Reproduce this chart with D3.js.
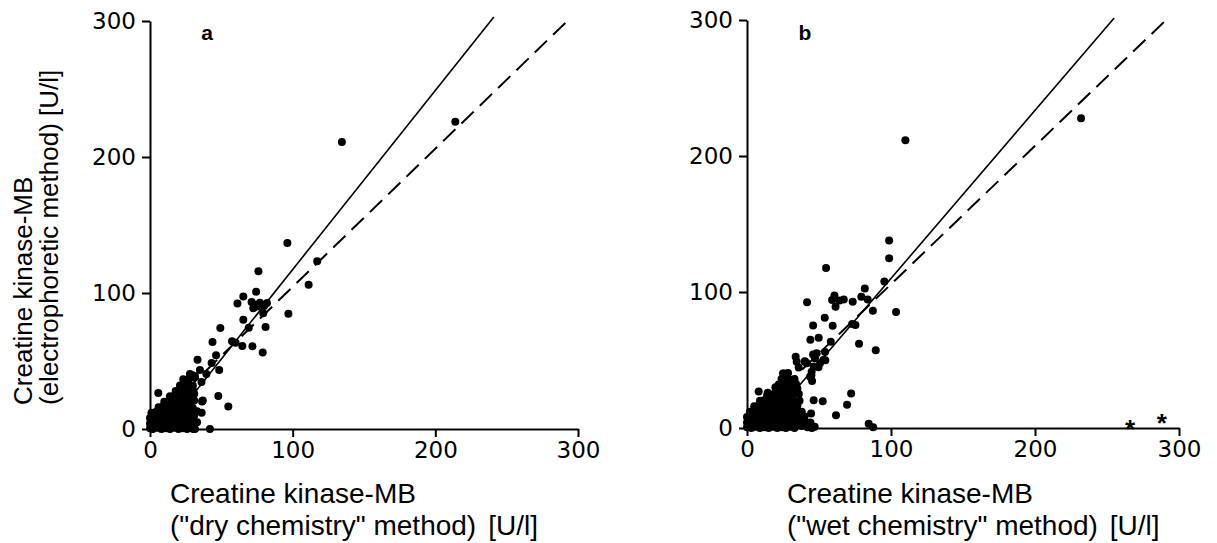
<!DOCTYPE html>
<html lang="en">
<head>
<meta charset="UTF-8">
<title>Creatine kinase-MB</title>
<style>
  body { margin: 0; background: #fff; }
  svg { display: block; }
  .axis path, .axis line { stroke: #000; stroke-width: 2; }
  .axis text { font-family: "DejaVu Sans", sans-serif; font-size: 23px; fill: #000; }
  .title { font-family: "Liberation Sans", Arial, sans-serif; font-size: 28px; fill: #000; }
  .ytitle { font-family: "Liberation Sans", Arial, sans-serif; font-size: 26px; fill: #000; }
  .plabel { font-family: "Liberation Sans", Arial, sans-serif; font-size: 21px; font-weight: bold; }
  .star { font-family: "Liberation Sans", Arial, sans-serif; font-size: 26px; font-weight: bold; }
  .dot { fill: #000; }
  .fit { fill: none; stroke: #000; stroke-width: 1.6; }
  .fit.dashed { stroke-width: 2; stroke-dasharray: 17 8.5; }
</style>
</head>
<body>
<svg></svg>
<script src="https://d3js.org/d3.v7.min.js"></script>
<script>
var width = 1217, height = 543;
var tickValues = [0, 100, 200, 300];

// panel a: dry chemistry (x) vs electrophoretic (y)
var dryPoints = [
  [214,226],[134.5,211],[96.3,136.7],[117.2,123.4],[111.2,106],[97,84.8],
  [76,116],[74.4,101],[65.4,97.4],[61.3,92.2],[71.2,93.4],[73,91.6],[77,92.8],[82,92.6],[79.4,85.2],[72.4,88.7],
  [75,90],[80,90.5],[65.4,80.3],[69.2,74.4],[81,75],[49.3,74.2],[43.8,64],[57.5,64.6],[60,63.4],[64.7,61],
  [71.8,60.8],[79,56.2],[46.3,54.3],[43.2,48.5],[33.3,51],[48.5,43.4],[35,43.4],[39.5,40.5],[29.8,39.6],
  [23.3,36.5],[36.1,34.5],[5.8,26.5],[47.9,24.3],[36.5,20.3],[54.9,16.5],[36.2,12],[42,0],[30.3,0],
  // dense cluster near the origin
  [0,0.5],[2,0],[5,1],[8,0],[11,0.5],[14,0],[17,1],[20,0],[23,0.5],[26,0],[29,1],[31.5,0],
  [0,4],[3,4.5],[6,3.5],[9,4],[12,4.5],[15,3.5],[18,4],[21,4.5],[24,3.5],[27,4],[30,3],[33,5],
  [0,8],[2,8.5],[5,7.5],[8,8],[11,8.5],[14,7.5],[17,8],[20,8.5],[23,7.5],[26,8],[29,8],
  [1,12],[4,12.5],[7,11.5],[10,12],[13,12.5],[16,11.5],[19,12],[22,12.5],[25,11.5],[28,12],[31,10],[33,13],
  [6,16],[9,16.5],[12,15.5],[15,16],[18,16.5],[21,15.5],[24,16],[27,16.5],[30,15.5],
  [10,20],[13,20.5],[16,19.5],[19,20],[22,20.5],[25,19.5],[28,20],[31,21],[37,21],
  [14,24],[17,24.5],[20,23.5],[23,24],[26,24.5],[29,23.5],[31,26],
  [18,28],[21,28.5],[24,27.5],[27,28],[30,29],
  [21,32],[24,32.5],[27,31.5],[30,32],
  [24,36],[27,36.5],[31,38],
  [28,40.5],[31.5,39]
];
var drySolid = [[11, 0], [241, 303]];
var dryDashed = [[0, 3], [292, 299.5]];

// panel b: wet chemistry (x) vs electrophoretic (y)
var wetPoints = [
  [232,227.7],[110,211.6],[98.7,137.9],[98.7,124.8],[95.4,107.7],[103.5,85.3],[54.9,117.7],[41.7,92.4],
  [60.7,97.5],[59.1,94.2],[61.5,89.1],[64.2,93.7],[67.2,94.5],[73.4,92.9],[81.8,102.6],[79.4,96.5],
  [83.8,94.4],[87.4,86.2],[54,81],[59.5,75.2],[45.9,75.3],[75.3,75.8],[73,76.5],[44,64.8],[49.8,66.3],
  [58.2,63.5],[77.8,62],[89.4,57.2],[54.2,55.9],[45.9,54.1],[54.4,49.8],[33.8,52.3],[40.1,49],[35.9,44.4],
  [46.3,45.2],[49.6,44.7],[44.7,38.8],[45.2,34.5],[47.2,51.2],[48.4,54.9],[50.7,47.6],[53,50],[44.9,41.4],
  [43.8,37.7],[40.3,48.8],[34.5,48.8],[41.5,47.6],
  [25.5,40.1],[30.8,35],[19.7,29.9],[8.1,26.8],[14.4,26],[72.3,25.3],[69.5,17.1],[46.3,20.4],[52.6,19.7],
  [61.8,9.4],[44.5,10.7],[84.5,3.1],[87.6,0.5],[38,1.5],[42,0.5],[45,0],[47,1],
  // dense cluster near the origin
  [0,0.5],[3,0],[6,1],[9,0],[12,0.5],[15,0],[18,1],[21,0],[24,0.5],[27,0],[30,1],[33,0],
  [0,4],[3,4.5],[6,3.5],[9,4],[12,4.5],[15,3.5],[18,4],[21,4.5],[24,3.5],[27,4],[30,4.5],[33,3.5],[36,4],[40,4.5],[44,4],
  [0,8],[3,8.5],[6,7.5],[9,8],[12,8.5],[15,7.5],[18,8],[21,8.5],[24,7.5],[27,8],[30,8.5],[33,7.5],[36,8],[40,8.5],
  [2,12],[5,12.5],[8,11.5],[11,12],[14,12.5],[17,11.5],[20,12],[23,12.5],[26,11.5],[29,12],[32,12.5],[35,11.5],[38,12],
  [5,16],[8,16.5],[11,15.5],[14,16],[17,16.5],[20,15.5],[23,16],[26,16.5],[29,15.5],[32,16],[35,16.5],
  [9,20],[12,20.5],[15,19.5],[18,20],[21,20.5],[24,19.5],[27,20],[30,20.5],[33,19.5],[36.5,20],
  [14,24],[17,24.5],[20,23.5],[23,24],[26,24.5],[29,23.5],[32,24],[36,25],
  [20,28],[23,28.5],[26,27.5],[29,28],[32,28.5],[35,29],
  [22,32],[25,32.5],[28,31.5],[31,32],[34,32.5],
  [24,36],[27,36.5],[30,35.5],[33,36],
  [25,40],[28.5,40.5]
];
var wetStars = [[266, 4], [288, 8]];
var wetSolid = [[11, 0], [255, 301.5]];
var wetDashed = [[0, 4], [291, 300]];

var panels = [
  { points: dryPoints, stars: [], solid: drySolid, dashed: dryDashed,
    x0: 150, x1: 578, y0: 429, y1: 21, label: "a", labelX: 207,
    title: ["Creatine kinase-MB", "(\"dry chemistry\" method)"], titleX: 170 },
  { points: wetPoints, stars: wetStars, solid: wetSolid, dashed: wetDashed,
    x0: 747, x1: 1179, y0: 428, y1: 20, label: "b", labelX: 805,
    title: ["Creatine kinase-MB", "(\"wet chemistry\" method)"], titleX: 787 }
];

var svg = d3.select("svg")
  .attr("width", width)
  .attr("height", height);

panels.forEach(function(p) {
  var x = d3.scaleLinear().domain([0, 300]).range([p.x0, p.x1]);
  var y = d3.scaleLinear().domain([0, 300]).range([p.y0, p.y1]);
  var g = svg.append("g");

  g.append("g")
    .attr("class", "axis")
    .attr("transform", "translate(0," + p.y0 + ")")
    .call(d3.axisBottom(x).tickValues(tickValues).tickSize(8).tickSizeOuter(0).tickPadding(5));

  g.append("g")
    .attr("class", "axis")
    .attr("transform", "translate(" + p.x0 + ",0)")
    .call(d3.axisLeft(y).tickValues(tickValues).tickSize(8).tickSizeOuter(0).tickPadding(6));

  var line = d3.line().x(function(d) { return x(d[0]); }).y(function(d) { return y(d[1]); });

  g.append("path").datum(p.solid).attr("class", "fit").attr("d", line);
  g.append("path").datum(p.dashed).attr("class", "fit dashed").attr("d", line);

  g.selectAll(".dot")
    .data(p.points)
    .enter()
    .append("circle")
    .attr("class", "dot")
    .attr("cx", function(d) { return x(d[0]); })
    .attr("cy", function(d) { return y(d[1]); })
    .attr("r", 4);

  g.selectAll(".star")
    .data(p.stars)
    .enter()
    .append("text")
    .attr("class", "star")
    .attr("x", function(d) { return x(d[0]); })
    .attr("y", function(d) { return y(d[1]) + 15; })
    .attr("text-anchor", "middle")
    .text("*");

  g.append("text")
    .attr("class", "plabel")
    .attr("x", p.labelX)
    .attr("y", 40)
    .attr("text-anchor", "middle")
    .text(p.label);

  g.append("text").attr("class", "title").attr("x", p.titleX).attr("y", 503).text(p.title[0]);
  var t2 = g.append("text").attr("class", "title").attr("x", p.titleX).attr("y", 535);
  t2.append("tspan").text(p.title[1]);
  t2.append("tspan").attr("dx", 12).text("[U/l]");
});

// y axis title, left panel only
var yt = svg.append("g").attr("transform", "translate(0,405) rotate(-90)");
yt.append("text").attr("class", "ytitle").attr("x", 0).attr("y", 32).text("Creatine kinase-MB");
yt.append("text").attr("class", "ytitle").attr("x", 0).attr("y", 58).text("(electrophoretic method) [U/l]");
</script>
</body>
</html>
